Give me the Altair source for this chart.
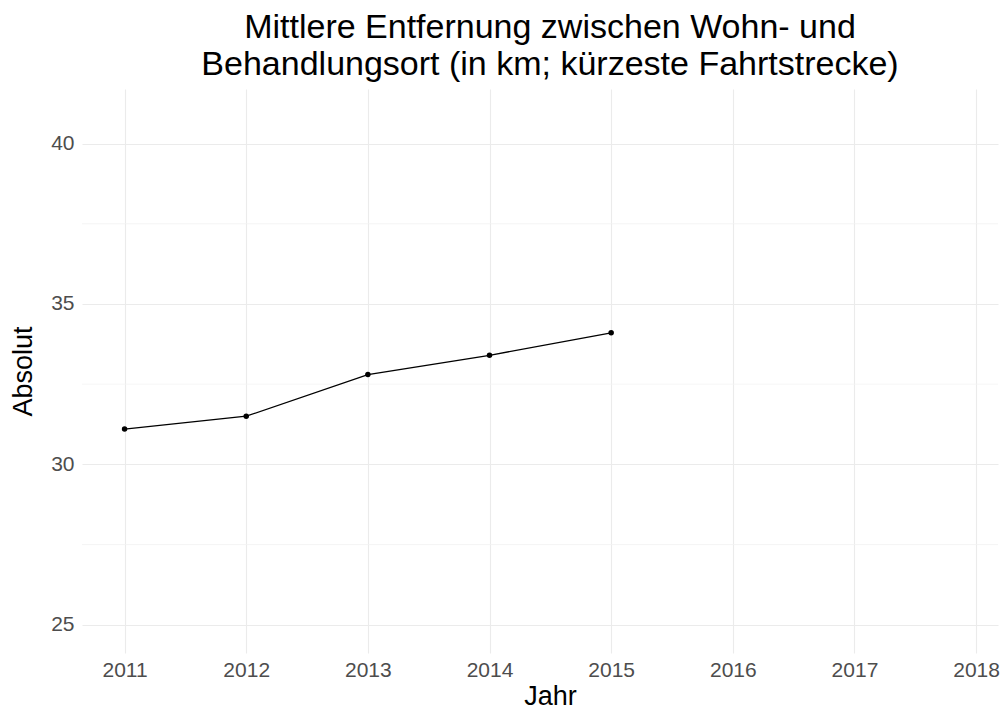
import altair as alt
import pandas as pd

years = [2011, 2012, 2013, 2014, 2015]
values = [31.1, 31.5, 32.8, 33.4, 34.1]
x_ticks = [2011, 2012, 2013, 2014, 2015, 2016, 2017, 2018]
y_ticks = [25, 30, 35, 40]
y_minor = [27.5, 32.5, 37.5]

df = pd.DataFrame({"Jahr": years, "Absolut": values})
minor_df = pd.DataFrame({"Absolut": y_minor})

FONT = "Liberation Sans"
XDOM = [2010.65, 2018.18]
YDOM = [24.12, 41.70]

x_axis = alt.Axis(
    values=x_ticks, format="d", title="Jahr", grid=True,
    gridColor="#ebebeb", gridWidth=1.1, ticks=False, tickSize=0, domain=False,
    labelFont=FONT, labelFontSize=21, labelColor="#4d4d4d", labelPadding=6,
    titleFont=FONT, titleFontSize=27, titleFontWeight="normal", titleColor="black",
    titleX=468, titleY=51, titleBaseline="alphabetic", titleAnchor="start", titleAlign="center",
    labelFlush=False,
)
y_axis = alt.Axis(
    values=y_ticks, title="Absolut", grid=True,
    gridColor="#ebebeb", gridWidth=1.1, ticks=False, tickSize=0, domain=False,
    labelFont=FONT, labelFontSize=21, labelColor="#4d4d4d", labelPadding=8,
    titleFont=FONT, titleFontSize=27, titleFontWeight="normal", titleColor="black",
    titleAngle=270, titleX=-59, titleY=282, titleBaseline="middle", titleAlign="center",
    labelFlush=False,
)

yscale = alt.Scale(domain=YDOM, nice=False, zero=False)
xscale = alt.Scale(domain=XDOM, nice=False, zero=False)

minor = alt.Chart(minor_df).mark_rule(color="#f3f3f3", strokeWidth=0.8).encode(
    y=alt.Y("Absolut:Q", scale=yscale, axis=y_axis)
)

line = alt.Chart(df).mark_line(color="black", strokeWidth=1.3).encode(
    x=alt.X("Jahr:Q", scale=xscale, axis=x_axis),
    y=alt.Y("Absolut:Q", scale=yscale, axis=y_axis),
)
pts = alt.Chart(df).mark_circle(color="black", size=30, opacity=1).encode(
    x=alt.X("Jahr:Q", scale=xscale, axis=x_axis),
    y=alt.Y("Absolut:Q", scale=yscale, axis=y_axis),
)

chart = alt.layer(minor, line, pts).properties(
    width=916,
    height=564,
    autosize=alt.AutoSizeParams(type="none"),
    padding={"left": 74, "top": 81, "right": 2, "bottom": 54},
    title=alt.TitleParams(
        text=["Mittlere Entfernung zwischen Wohn- und", "Behandlungsort (in km; kürzeste Fahrtstrecke)"],
        font=FONT, fontSize=34, fontWeight="normal", color="black",
        anchor="middle", dx=10, offset=7, lineHeight=37,
    ),
).configure_view(stroke=None).configure_axis(gridCap="butt")

chart.save("out.html", embed_options={"renderer": "svg", "actions": False})
